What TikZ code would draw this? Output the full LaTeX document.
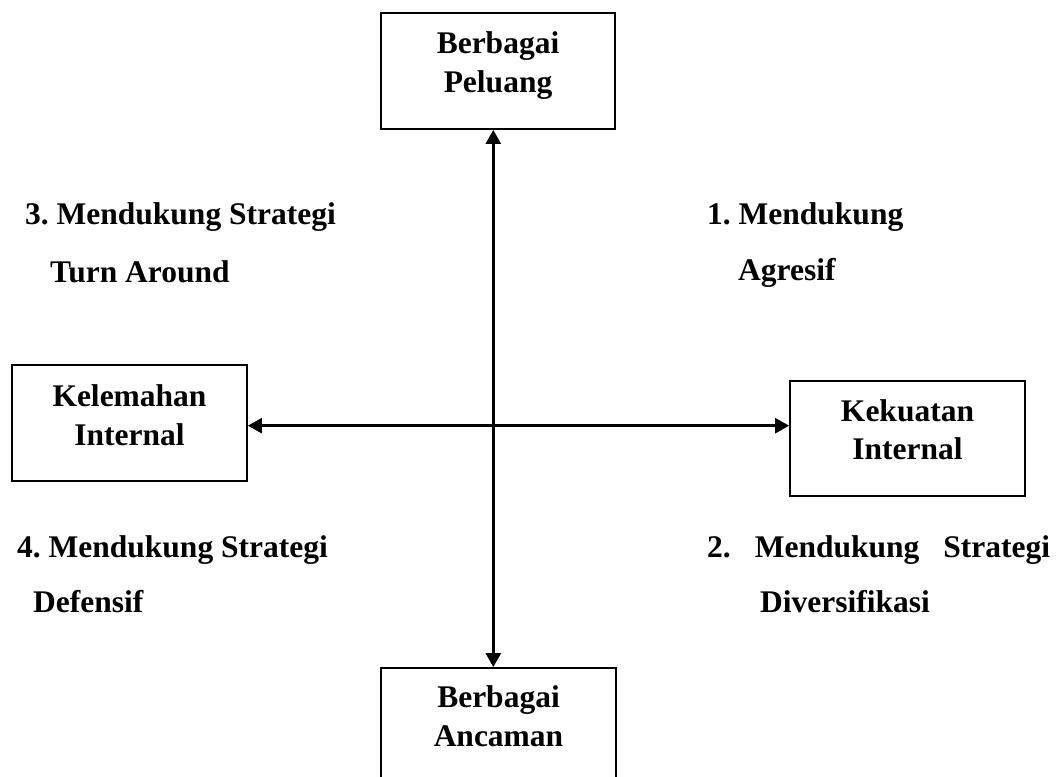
\documentclass[tikz,border=0pt]{standalone}
\usepackage{fontspec}
\setmainfont{Liberation Serif}
\usetikzlibrary{arrows.meta}
\frenchspacing
\begin{document}
\begin{tikzpicture}[x=1pt,y=-1pt,
  boxframe/.style={draw=black,line width=1.8pt,minimum width=#1,inner sep=0pt},
  boxtext/.style={inner sep=0pt,anchor=base,font=\fontsize{31.5}{38}\selectfont\bfseries},
  quadtext/.style={inner sep=0pt,anchor=base west,font=\fontsize{31.5}{38}\selectfont\bfseries},
  axisarrow/.style={line width=2.6pt,{Triangle[length=14pt,width=15pt]}-{Triangle[length=14pt,width=15pt]}}]
  \useasboundingbox (0,0) rectangle (1064,776);
  \clip (0,0) rectangle (1064,776);

  % the four boxes
  \node[boxframe=234pt,minimum height=116pt] (peluang) at (498,71) {};
  \node[boxframe=235pt,minimum height=150pt] (ancaman) at (498.5,743) {};
  \node[boxframe=235pt,minimum height=116pt] (kelemahan) at (129.5,423) {};
  \node[boxframe=235pt,minimum height=115pt] (kekuatan) at (907.5,438.5) {};

  % box captions
  \node[boxtext] (peluang1) at (498,54) {Berbagai};
  \node[boxtext] (peluang2) at (498,92) {Peluang};
  \node[boxtext] (ancaman1) at (498.5,707) {Berbagai};
  \node[boxtext] (ancaman2) at (498.5,746) {Ancaman};
  \node[boxtext] (kelemahan1) at (129.5,406) {Kelemahan};
  \node[boxtext] (kelemahan2) at (129.5,445) {Internal};
  \node[boxtext] (kekuatan1) at (907.5,421) {Kekuatan};
  \node[boxtext] (kekuatan2) at (907.5,459) {Internal};

  % axes
  \coordinate (axisx) at (493.3,0);
  \coordinate (axisy) at (0,425.7);
  \draw[axisarrow] (peluang.south -| axisx) -- (ancaman.north -| axisx);
  \draw[axisarrow] (kelemahan.east |- axisy) -- (kekuatan.west |- axisy);

  % quadrant labels
  \node[quadtext] (q3a) at (25,224) {3. Mendukung Strategi};
  \node[quadtext] (q3b) at (50,282) {Turn Around};
  \node[quadtext] (q1a) at (707,224) {1. Mendukung};
  \node[quadtext] (q1b) at (738,280) {Agresif};
  \node[quadtext] (q4a) at (17,557) {4. Mendukung Strategi};
  \node[quadtext] (q4b) at (33,612) {Defensif};
  \node[quadtext] (q2a) at (707,557) {\hbox to 343pt{2.\hfil Mendukung\hfil Strategi}};
  \node[quadtext] (q2b) at (760,612) {Diversifikasi};
\end{tikzpicture}
\end{document}
